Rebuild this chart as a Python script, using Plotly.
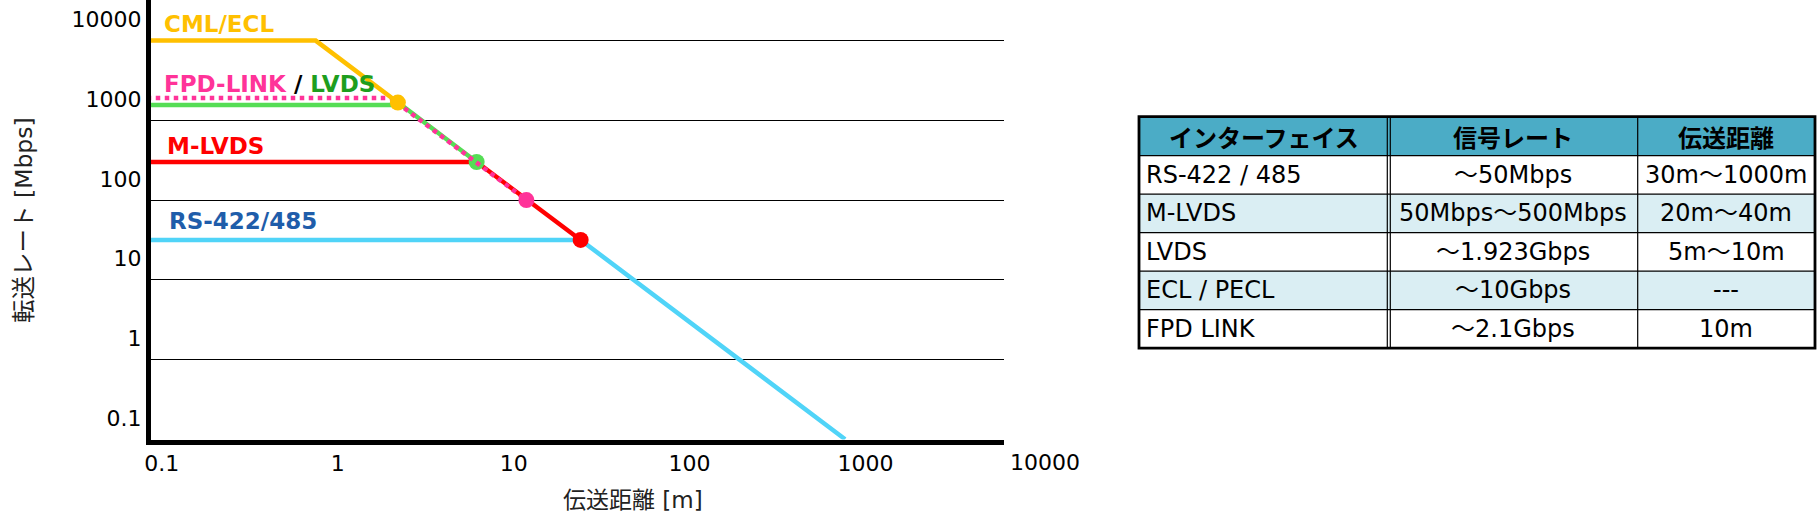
import plotly.graph_objects as go

# ---------------- data ----------------
cml_x = [0.08, 0.73, 2.14]
cml_y = [10000, 10000, 1670]

lvds_x = [0.08, 2.24, 6.0]
lvds_y = [1560, 1560, 300]

fpd_x = [0.08, 1.95, 11.5]
fpd_y = [1900, 1900, 100]

mlvds_x = [0.08, 6.0, 23.4]
mlvds_y = [300, 300, 31.6]

rs_x = [0.08, 23.4, 745]
rs_y = [31.6, 31.6, 0.1]

x_ticks = [0.1, 1, 10, 100, 1000, 10000]
x_tick_text = ["0.1", "1", "10", "100", "1000", "10000"]
y_ticks = [0.1, 1, 10, 100, 1000, 10000]
y_tick_text = ["0.1", "1", "10", "100", "1000", "10000"]

table_header = ["インターフェイス", "信号レート", "伝送距離"]
table_interface = ["RS-422 / 485", "M-LVDS", "LVDS", "ECL / PECL", "FPD LINK"]
table_rate = ["～50Mbps", "50Mbps～500Mbps", "～1.923Gbps", "～10Gbps", "～2.1Gbps"]
table_distance = ["30m～1000m", "20m～40m", "5m～10m", "---", "10m"]

# ---------------- geometry helpers ----------------
W, H = 1819, 525


def fx(px):
    return px / W


def fy(py):
    return 1 - py / H


PLOT_L, PLOT_R, PLOT_T, PLOT_B = 150.8, 1004.0, 0.0, 439.6

ORANGE = "#FFC000"
GREEN = "#55DD55"
GREEN_TXT = "#1E9E1E"
PINK = "#FF3399"
RED = "#FF0000"
CYAN = "#50D4F8"
BLUE_TXT = "#1F5DAA"

fig = go.Figure()


def add_series(x, y, color, dash="solid", end_marker=True, name=""):
    sizes = [0] * (len(x) - 1) + [16 if end_marker else 0]
    fig.add_trace(go.Scatter(
        x=x, y=y, mode="lines+markers", name=name,
        line=dict(color=color, width=4.5, dash=dash),
        marker=dict(size=sizes, color=color, opacity=1, line=dict(width=0)),
        opacity=1, hoverinfo="x+y+name", cliponaxis=False,
    ))


add_series(rs_x, rs_y, CYAN, end_marker=False, name="RS-422/485")
add_series(mlvds_x, mlvds_y, RED, name="M-LVDS")
add_series(lvds_x, lvds_y, GREEN, name="LVDS")
add_series(fpd_x, fpd_y, PINK, dash="dot", name="FPD-LINK")
add_series(cml_x, cml_y, ORANGE, name="CML/ECL")

# ---------------- annotations ----------------
lab_font = dict(family="DejaVu Sans", size=23, weight="bold")
annotations = [
    dict(text="CML/ECL", x=fx(162), y=fy(24), font=dict(lab_font, color=ORANGE)),
    dict(text="<span style='color:%s'>FPD-LINK</span> / <span style='color:%s'>LVDS</span>" % (PINK, GREEN_TXT),
         x=fx(162), y=fy(84), font=dict(lab_font, color="black")),
    dict(text="M-LVDS", x=fx(165), y=fy(146), font=dict(lab_font, color=RED)),
    dict(text="RS-422/485", x=fx(167), y=fy(221), font=dict(lab_font, color=BLUE_TXT)),
]
for a in annotations:
    a.update(xref="paper", yref="paper", xanchor="left", yanchor="middle", showarrow=False)

title_font = dict(family="DejaVu Sans, Noto Sans CJK JP", size=23, color="#222222")
# the last x tick lies beyond the drawn axis end
annotations.append(dict(
    text=x_tick_text[-1], x=fx(1045), y=fy(462), xref="paper", yref="paper",
    xanchor="center", yanchor="middle", showarrow=False,
    font=dict(family="DejaVu Sans", size=22, color="black"),
))
annotations.append(dict(
    text="伝送距離 [m]", x=fx(633), y=fy(500), xref="paper", yref="paper",
    xanchor="center", yanchor="middle", showarrow=False, font=title_font,
))
annotations.append(dict(
    text="転送レート [Mbps]", x=fx(24), y=fy(220), xref="paper", yref="paper",
    xanchor="center", yanchor="middle", showarrow=False, textangle=-90,
    font=dict(title_font, size=23.5),
))

# ---------------- table (cells drawn as shapes + text) ----------------
col_edges = [1139, 1388.5, 1637.7, 1815]
row_edges = [116.7, 155.7, 194.2, 232.7, 271.2, 309.7, 348.2]
row_fill = ["#FFFFFF", "#DAEEF3", "#FFFFFF", "#DAEEF3", "#FFFFFF"]
HEADER_FILL = "#4BACC6"

shapes = []
fills = [HEADER_FILL] + row_fill
for i, fc in enumerate(fills):
    shapes.append(dict(type="rect", xref="paper", yref="paper", layer="below",
                       x0=fx(col_edges[0]), x1=fx(col_edges[-1]),
                       y0=fy(row_edges[i + 1]), y1=fy(row_edges[i]),
                       fillcolor=fc, line=dict(width=0)))
for yb in row_edges[1:-1]:
    shapes.append(dict(type="line", xref="paper", yref="paper",
                       x0=fx(col_edges[0]), x1=fx(col_edges[-1]), y0=fy(yb), y1=fy(yb),
                       line=dict(color="black", width=1.3)))
for xb in [col_edges[1] - 1.2, col_edges[1] + 1.8, col_edges[2]]:
    shapes.append(dict(type="line", xref="paper", yref="paper",
                       x0=fx(xb), x1=fx(xb), y0=fy(row_edges[-1]), y1=fy(row_edges[0]),
                       line=dict(color="black", width=1.2)))
shapes.append(dict(type="rect", xref="paper", yref="paper",
                   x0=fx(col_edges[0]), x1=fx(col_edges[-1]), y0=fy(row_edges[-1]), y1=fy(row_edges[0]),
                   line=dict(color="black", width=2.8)))

header_font = dict(family="Noto Sans CJK JP", size=24, color="black", weight="bold")
cell_font = dict(family="DejaVu Sans, Noto Sans CJK JP", size=24, color="black")
for j, h in enumerate(table_header):
    annotations.append(dict(
        text=h, x=fx((col_edges[j] + col_edges[j + 1]) / 2), y=fy((row_edges[0] + row_edges[1]) / 2),
        xref="paper", yref="paper", xanchor="center", yanchor="middle", showarrow=False, font=header_font,
    ))
columns = [table_interface, table_rate, table_distance]
for j, col in enumerate(columns):
    for i, v in enumerate(col):
        yc = fy((row_edges[i + 1] + row_edges[i + 2]) / 2)
        if j == 0:
            xa, xanchor = fx(col_edges[0] + 5), "left"
        else:
            xa, xanchor = fx((col_edges[j] + col_edges[j + 1]) / 2), "center"
        annotations.append(dict(
            text=v, x=xa, y=yc, xref="paper", yref="paper", xanchor=xanchor, yanchor="middle",
            showarrow=False, font=cell_font,
        ))

fig.update_layout(
    width=W, height=H,
    margin=dict(l=0, r=0, t=0, b=0),
    paper_bgcolor="white", plot_bgcolor="white",
    showlegend=False,
    annotations=annotations,
    shapes=shapes,
    xaxis=dict(
        type="log", domain=[fx(PLOT_L), fx(PLOT_R)], range=[-1.0739, 3.7755],
        tickvals=x_ticks[:-1], ticktext=x_tick_text[:-1],
        showgrid=False, zeroline=False, ticks="",
        showline=True, linecolor="black", linewidth=5,
        tickfont=dict(family="DejaVu Sans", size=22, color="black"),
        ticklabelshift=-2,
        automargin=False,
    ),
    yaxis=dict(
        type="log", domain=[fy(PLOT_B), fy(PLOT_T)], range=[-1.0050, 4.5093],
        tickvals=y_ticks, ticktext=y_tick_text,
        showgrid=True, gridcolor="black", gridwidth=1.4, zeroline=False, ticks="",
        showline=True, linecolor="black", linewidth=5,
        tickfont=dict(family="DejaVu Sans", size=22, color="black"),
        ticklabelshift=-21,
        automargin=False,
    ),
)

fig.write_html("out.html", config={"displayModeBar": False},
               post_script="document.body.style.margin='0';")
